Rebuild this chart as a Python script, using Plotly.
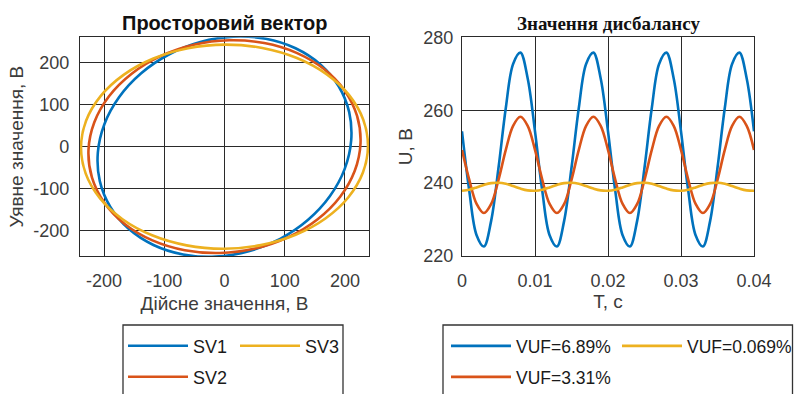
import plotly.graph_objects as go

# ---------------- Left panel: space vector (real / imaginary part, V) ----------------
sv1_re = [68.7, 14.7, -40.2, -92.5, -138.4, -174.9, -199.5, -210.4, -207.1, -189.6, -159.2, -118.0,
          -68.7, -14.7, 40.2, 92.5, 138.4, 174.9, 199.5, 210.4, 207.1, 189.6, 159.2, 118.0, 68.7]
sv1_im = [256.5, 261.5, 248.8, 219.1, 174.5, 118.0, 53.4, -14.8, -82.0, -143.6, -195.4, -233.9,
          -256.5, -261.5, -248.8, -219.1, -174.5, -118.0, -53.4, 14.8, 82.0, 143.6, 195.4, 233.9, 256.5]
sv2_re = [66.0, 7.8, -50.9, -106.2, -154.2, -191.8, -216.2, -225.9, -220.2, -199.6, -165.3, -119.7,
          -66.0, -7.8, 50.9, 106.2, 154.2, 191.8, 216.2, 225.9, 220.2, 199.6, 165.3, 119.7, 66.0]
sv2_im = [246.3, 252.9, 242.3, 215.1, 173.3, 119.7, 57.9, -7.8, -73.0, -133.2, -184.4, -222.9,
          -246.3, -252.9, -242.3, -215.1, -173.3, -119.7, -57.9, 7.8, 73.0, 133.2, 184.4, 222.9, 246.3]
sv3_re = [62.9, 1.3, -60.5, -118.1, -167.6, -205.8, -229.9, -238.3, -230.5, -207.0, -169.4, -120.2,
          -62.9, -1.3, 60.5, 118.1, 167.6, 205.8, 229.9, 238.3, 230.5, 207.0, 169.4, 120.2, 62.9]
sv3_im = [234.7, 242.7, 234.1, 209.5, 170.7, 120.2, 61.6, -1.3, -64.0, -122.4, -172.5, -210.8,
          -234.7, -242.7, -234.1, -209.5, -170.7, -120.2, -61.6, 1.3, 64.0, 122.4, 172.5, 210.8, 234.7]
sv_names = ["SV1", "SV2", "SV3"]
left_ticks = [-200, -100, 0, 100, 200]
left_ticktext = ["-200", "-100", "0", "100", "200"]

# ---------------- Right panel: voltage vs time ----------------
t = [0.000, 0.001, 0.002, 0.003, 0.004, 0.005, 0.006, 0.007, 0.008, 0.009,
     0.010, 0.011, 0.012, 0.013, 0.014, 0.015, 0.016, 0.017, 0.018, 0.019,
     0.020, 0.021, 0.022, 0.023, 0.024, 0.025, 0.026, 0.027, 0.028, 0.029,
     0.030, 0.031, 0.032, 0.033, 0.034, 0.035, 0.036, 0.037, 0.038, 0.039, 0.040]
u_vuf_689 = [254.2, 237.8, 225.7, 222.6, 229.7, 244.2, 260.6, 272.7, 275.8, 268.7,
             254.2, 237.8, 225.7, 222.6, 229.7, 244.2, 260.6, 272.7, 275.8, 268.7,
             254.2, 237.8, 225.7, 222.6, 229.7, 244.2, 260.6, 272.7, 275.8, 268.7,
             254.2, 237.8, 225.7, 222.6, 229.7, 244.2, 260.6, 272.7, 275.8, 268.7, 254.2]
u_vuf_331 = [249.1, 240.9, 234.3, 231.8, 234.3, 240.9, 249.1, 255.7, 258.2, 255.7,
             249.1, 240.9, 234.3, 231.8, 234.3, 240.9, 249.1, 255.7, 258.2, 255.7,
             249.1, 240.9, 234.3, 231.8, 234.3, 240.9, 249.1, 255.7, 258.2, 255.7,
             249.1, 240.9, 234.3, 231.8, 234.3, 240.9, 249.1, 255.7, 258.2, 255.7, 249.1]
u_vuf_0069 = [237.9, 238.2, 238.8, 239.5, 240.0, 240.1, 239.8, 239.2, 238.5, 238.0,
              237.9, 238.2, 238.8, 239.5, 240.0, 240.1, 239.8, 239.2, 238.5, 238.0,
              237.9, 238.2, 238.8, 239.5, 240.0, 240.1, 239.8, 239.2, 238.5, 238.0,
              237.9, 238.2, 238.8, 239.5, 240.0, 240.1, 239.8, 239.2, 238.5, 238.0, 237.9]
vuf_names = ["VUF=6.89%", "VUF=3.31%", "VUF=0.069%"]
t_ticks = [0, 0.01, 0.02, 0.03, 0.04]
t_ticktext = ["0", "0.01", "0.02", "0.03", "0.04"]
u_ticks = [220, 240, 260, 280]

colors = ["#0072BD", "#D95319", "#EDB120"]
W, H = 794, 394
LW = 2.6

fig = go.Figure()

sv_data = [(sv1_re, sv1_im), (sv2_re, sv2_im), (sv3_re, sv3_im)]
sv_legends = ["legend", "legend2", "legend3"]
for (re_, im_), name, col, lg in zip(sv_data, sv_names, colors, sv_legends):
    fig.add_trace(go.Scatter(x=re_, y=im_, name=name, mode="lines",
                             line=dict(color=col, width=LW, shape="spline", smoothing=1.0),
                             xaxis="x", yaxis="y", legend=lg))

u_data = [u_vuf_689, u_vuf_331, u_vuf_0069]
u_legends = ["legend4", "legend5", "legend6"]
for u, name, col, lg in zip(u_data, vuf_names, colors, u_legends):
    fig.add_trace(go.Scatter(x=t, y=u, name=name, mode="lines",
                             line=dict(color=col, width=LW, shape="spline", smoothing=1.0),
                             xaxis="x2", yaxis="y2", legend=lg))

SANS = "Liberation Sans"
TITLE_SANS = "Arial, Liberation Sans, DejaVu Sans, sans-serif"
SERIF = "Liberation Serif"
GRID = "#2a2a2a"
TICKC = "#3c3c3c"

def px_x(p):
    return p / W

def px_y(p):
    return 1 - p / H

ydom = [px_y(256), px_y(37.3)]

axis_common = dict(showgrid=True, gridcolor=GRID, gridwidth=1.3, zeroline=False,
                   showline=True, linecolor=GRID, linewidth=1.3, mirror=True,
                   ticks="", tickfont=dict(family=SANS, size=18, color=TICKC),
                   layer="below traces")

def legend_at(xp, yp, size=18):
    return dict(x=px_x(xp), y=px_y(yp), orientation="h", xanchor="left", yanchor="middle",
                bgcolor="rgba(0,0,0,0)", borderwidth=0, itemwidth=60,
                font=dict(family=SANS, size=size, color="#1a1a1a"),
                tracegroupgap=0, itemclick=False)

fig.update_layout(
    width=W, height=H, template="none",
    margin=dict(l=0, r=0, t=0, b=0, autoexpand=False),
    paper_bgcolor="white", plot_bgcolor="white",
    xaxis=dict(domain=[px_x(80), px_x(369)], range=[-240, 240], tickvals=left_ticks,
               ticktext=left_ticktext,
               title=dict(text="Дійсне значення, В", font=dict(family=SANS, size=19, color=TICKC), standoff=6),
               ticklabelstandoff=8, anchor="y", **axis_common),
    yaxis=dict(domain=ydom, range=[-260, 260], tickvals=left_ticks, ticktext=left_ticktext,
               title=dict(text="Уявне значення, В", font=dict(family=SANS, size=19, color=TICKC), standoff=4),
               ticklabelstandoff=6, anchor="x", **axis_common),
    xaxis2=dict(domain=[px_x(462), px_x(754)], range=[0, 0.04], tickvals=t_ticks,
                ticktext=t_ticktext,
                title=dict(text="T, с", font=dict(family=SANS, size=19, color=TICKC), standoff=4),
                ticklabelstandoff=8, anchor="y2", **axis_common),
    yaxis2=dict(domain=ydom, range=[220, 280], tickvals=u_ticks,
                title=dict(text="U, В", font=dict(family=SANS, size=19, color=TICKC), standoff=5),
                ticklabelstandoff=4, anchor="x2", **axis_common),
    legend=legend_at(123, 346),
    legend2=legend_at(123, 377),
    legend3=legend_at(235, 346),
    legend4=legend_at(446, 346, 17.5),
    legend5=legend_at(446, 377, 17.5),
    legend6=legend_at(617, 346, 17.5),
    showlegend=True,
    annotations=[
        dict(text="<b>Просторовий вектор</b>", x=px_x(224.5), y=px_y(23), xref="paper", yref="paper",
             xanchor="center", yanchor="middle", showarrow=False,
             font=dict(family=TITLE_SANS, size=20, color="#111111")),
        dict(text="<b>Значення дисбалансу</b>", x=px_x(608), y=px_y(23), xref="paper", yref="paper",
             xanchor="center", yanchor="middle", showarrow=False,
             font=dict(family=SERIF, size=19, color="#111111")),
    ],
    shapes=[
        dict(type="rect", xref="paper", yref="paper", x0=px_x(123), x1=px_x(343),
             y0=-0.03, y1=px_y(325), line=dict(color="#333333", width=1.3), layer="above"),
        dict(type="rect", xref="paper", yref="paper", x0=px_x(443), x1=px_x(792.5),
             y0=-0.03, y1=px_y(325), line=dict(color="#333333", width=1.3), layer="above"),
    ],
)

fig.write_html("out.html", config={"displayModeBar": False},
               post_script="document.body.style.margin='0px';document.body.style.overflow='hidden';")
